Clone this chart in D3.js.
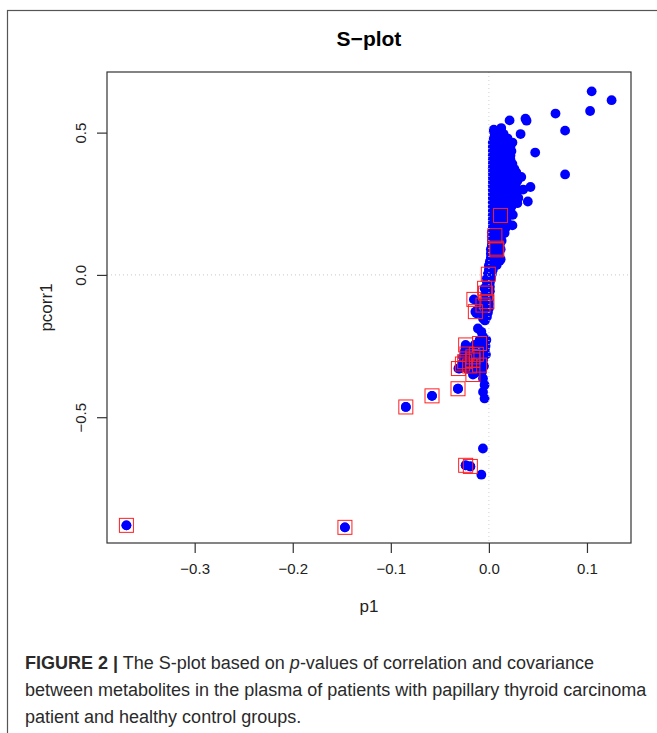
<!DOCTYPE html>
<html>
<head>
<meta charset="utf-8">
<script src="https://cdn.jsdelivr.net/npm/d3@7/dist/d3.min.js"></script>
<style>
  body { margin: 0; background: #fff; }
  text { font-family: "Liberation Sans", Arial, Helvetica, sans-serif; }
</style>
</head>
<body>
<svg id="chart" width="657" height="733"></svg>
<script>
// ---- data (p1, pcorr1) ----
var highOutliers = [
  [0.1048, 0.645], [0.1251, 0.614], [0.1032, 0.576], [0.0679, 0.567],
  [0.0777, 0.507], [0.0373, 0.549], [0.0384, 0.542], [0.0211, 0.543],
  [0.0323, 0.495], [0.0472, 0.430], [0.0777, 0.353], [0.0424, 0.309],
  [0.0397, 0.258], [0.0244, 0.211], [0.0126, 0.516], [0.0050, 0.505]
];

var clusterPoints = [
  [0.005, 0.510], [0.012, 0.510],
  [0.006, 0.495], [0.011, 0.495], [0.015, 0.495],
  [0.005, 0.480], [0.010, 0.480], [0.015, 0.480], [0.019, 0.480],
  [0.004, 0.465], [0.009, 0.465], [0.014, 0.465], [0.019, 0.465], [0.024, 0.465],
  [0.004, 0.450], [0.009, 0.450], [0.014, 0.450], [0.019, 0.450], [0.022, 0.450],
  [0.004, 0.435], [0.008, 0.435], [0.013, 0.435], [0.018, 0.435], [0.023, 0.435],
  [0.004, 0.420], [0.009, 0.420], [0.014, 0.420], [0.019, 0.420], [0.022, 0.420],
  [0.004, 0.405], [0.008, 0.405], [0.013, 0.405], [0.018, 0.405], [0.022, 0.405],
  [0.004, 0.390], [0.009, 0.390], [0.014, 0.390], [0.019, 0.390], [0.024, 0.390],
  [0.004, 0.375], [0.008, 0.375], [0.013, 0.375], [0.018, 0.375], [0.023, 0.375], [0.026, 0.372],
  [0.004, 0.360], [0.009, 0.360], [0.014, 0.360], [0.019, 0.360], [0.024, 0.360], [0.028, 0.360],
  [0.004, 0.345], [0.008, 0.345], [0.013, 0.345], [0.018, 0.345], [0.023, 0.345], [0.028, 0.345], [0.033, 0.344],
  [0.004, 0.330], [0.009, 0.330], [0.014, 0.330], [0.019, 0.330], [0.024, 0.330], [0.029, 0.330],
  [0.004, 0.315], [0.008, 0.315], [0.013, 0.315], [0.018, 0.315], [0.023, 0.315], [0.027, 0.315], [0.035, 0.300],
  [0.004, 0.300], [0.009, 0.300], [0.014, 0.300], [0.019, 0.300], [0.024, 0.300], [0.029, 0.300],
  [0.004, 0.285], [0.008, 0.285], [0.013, 0.285], [0.018, 0.285], [0.023, 0.285], [0.028, 0.285],
  [0.004, 0.270], [0.009, 0.270], [0.014, 0.270], [0.019, 0.270], [0.025, 0.270], [0.030, 0.270],
  [0.004, 0.255], [0.008, 0.255], [0.013, 0.255], [0.018, 0.255], [0.023, 0.255], [0.029, 0.252],
  [0.004, 0.240], [0.009, 0.240], [0.014, 0.240], [0.019, 0.240], [0.023, 0.240],
  [0.004, 0.225], [0.008, 0.225], [0.013, 0.225], [0.018, 0.225], [0.022, 0.225],
  [0.004, 0.210], [0.009, 0.210], [0.014, 0.210], [0.019, 0.210],
  [0.004, 0.195], [0.008, 0.195], [0.013, 0.195], [0.018, 0.195],
  [0.004, 0.180], [0.009, 0.180], [0.014, 0.180], [0.019, 0.180], [0.024, 0.174],
  [0.004, 0.165], [0.008, 0.165], [0.013, 0.165], [0.017, 0.165],
  [0.003, 0.150], [0.008, 0.150], [0.013, 0.150], [0.016, 0.147],
  [0.003, 0.135], [0.007, 0.135], [0.012, 0.135],
  [0.003, 0.120], [0.008, 0.120], [0.013, 0.120],
  [0.003, 0.105], [0.007, 0.105], [0.011, 0.105],
  [0.002, 0.090], [0.007, 0.090], [0.012, 0.090],
  [0.002, 0.075], [0.006, 0.075], [0.010, 0.075],
  [0.002, 0.060], [0.007, 0.060], [0.012, 0.055],
  [0.001, 0.047], [0.006, 0.047], [0.011, 0.050],
  [0.000, 0.033], [0.004, 0.033], [0.008, 0.035],
  [0.000, 0.018], [0.004, 0.018],
  [-0.001, 0.003], [0.003, 0.003],
  [-0.002, -0.012], [0.002, -0.012],
  [-0.002, -0.027], [0.001, -0.027],
  [-0.002, -0.042], [0.001, -0.042],
  [-0.003, -0.057], [0.001, -0.057],
  [-0.003, -0.072], [0.000, -0.072],
  [-0.003, -0.087], [0.000, -0.087],
  [-0.003, -0.102], [0.000, -0.102],
  [-0.004, -0.117], [0.000, -0.117],
  [-0.004, -0.132], [-0.001, -0.132],
  [-0.005, -0.147], [-0.002, -0.147],
  [-0.004, -0.160], [-0.010, -0.100], [-0.0128, -0.135], [-0.006, -0.153]
];

var lowerBand = [
  [-0.0112, -0.188], [-0.0077, -0.200], [-0.006, -0.217], [-0.0026, -0.229],
  [-0.0034, -0.250], [-0.0095, -0.229], [-0.0145, -0.246], [-0.0237, -0.250],
  [-0.0247, -0.270], [-0.0214, -0.264], [-0.0264, -0.288], [-0.0095, -0.276],
  [-0.006, -0.299], [-0.0128, -0.323], [-0.0298, -0.329], [-0.0145, -0.346],
  [-0.006, -0.364], [-0.0044, -0.387], [-0.006, -0.411], [-0.0044, -0.434],
  [-0.004, -0.260], [-0.003, -0.280], [-0.005, -0.320], [-0.007, -0.340],
  [-0.018, -0.290], [-0.020, -0.310], [-0.027, -0.310], [-0.022, -0.330]
];

var lowOutliers = [
  [-0.3696, -0.880], [-0.1468, -0.887], [-0.0847, -0.464], [-0.058, -0.425],
  [-0.0315, -0.400], [-0.0061, -0.610], [-0.0237, -0.669], [-0.0189, -0.673],
  [-0.0077, -0.702]
];

// metabolites marked with red squares
var selectedPoints = [
  [-0.3696, -0.880], [-0.1468, -0.887], [-0.0847, -0.464], [-0.058, -0.425],
  [-0.0315, -0.400], [-0.0237, -0.669], [-0.0189, -0.673],
  [0.0119, 0.209], [0.0061, 0.138], [0.0075, 0.094], [0.0081, 0.088], [-0.0006, 0.0025],
  [-0.0044, -0.047], [-0.0034, -0.064], [-0.0153, -0.086], [-0.002, -0.094],
  [-0.006, -0.106], [-0.0138, -0.129],
  [-0.0095, -0.241], [-0.0237, -0.246], [-0.0224, -0.278], [-0.0128, -0.279],
  [-0.0163, -0.299], [-0.027, -0.313], [-0.0311, -0.329], [-0.0163, -0.350],
  [-0.0196, -0.320], [-0.0095, -0.317], [-0.0247, -0.305], [-0.0163, -0.288]
];

var xTicks = [-0.3, -0.2, -0.1, 0.0, 0.1];
var yTicks = [-0.5, 0.0, 0.5];
var xLim = [-0.3894, 0.1449];
var yLim = [-0.942, 0.713];

var captionLines = [
  [["FIGURE 2 |", "bold"], [" The S-plot based on ", ""], ["p", "italic"], ["-values of correlation and covariance", ""]],
  [["between metabolites in the plasma of patients with papillary thyroid carcinoma", ""]],
  [["patient and healthy control groups.", ""]]
];

// ---- drawing ----
var svg = d3.select("#chart");
var box = { left: 107, right: 631, top: 72, bottom: 543 };

var x = d3.scaleLinear().domain(xLim).range([box.left, box.right]);
var y = d3.scaleLinear().domain(yLim).range([box.bottom, box.top]);
var fmt = d3.format(".1f");

// outer figure frame
svg.append("rect")
  .attr("x", 7.5).attr("y", 10.5)
  .attr("width", 700).attr("height", 800)
  .attr("fill", "none").attr("stroke", "#555").attr("stroke-width", 1.2);

svg.append("text")
  .attr("x", (box.left + box.right) / 2).attr("y", 46)
  .attr("text-anchor", "middle")
  .attr("font-size", 21).attr("font-weight", "bold")
  .text("S\u2212plot");

// points
var allPoints = highOutliers.concat(clusterPoints, lowerBand, lowOutliers, selectedPoints);
svg.append("g").selectAll("circle")
  .data(allPoints)
  .join("circle")
  .attr("cx", function (d) { return x(d[0]); })
  .attr("cy", function (d) { return y(d[1]); })
  .attr("r", 4.9)
  .attr("fill", "#0000ff");

var sq = 14;
svg.append("g").selectAll("rect")
  .data(selectedPoints)
  .join("rect")
  .attr("x", function (d) { return x(d[0]) - sq / 2; })
  .attr("y", function (d) { return y(d[1]) - sq / 2; })
  .attr("width", sq).attr("height", sq)
  .attr("fill", "none").attr("stroke", "#ff2020").attr("stroke-width", 1);

// dotted reference lines at zero
svg.append("line")
  .attr("x1", x(0)).attr("x2", x(0)).attr("y1", box.top).attr("y2", box.bottom)
  .attr("stroke", "#d0d0d0").attr("stroke-dasharray", "1,3");
svg.append("line")
  .attr("x1", box.left).attr("x2", box.right).attr("y1", y(0)).attr("y2", y(0))
  .attr("stroke", "#c8c8c8").attr("stroke-dasharray", "1,3");

// plot box
svg.append("rect")
  .attr("x", box.left).attr("y", box.top)
  .attr("width", box.right - box.left).attr("height", box.bottom - box.top)
  .attr("fill", "none").attr("stroke", "#333").attr("stroke-width", 1.2);

// axes
var xAxis = svg.append("g")
  .attr("transform", "translate(0," + box.bottom + ")")
  .call(d3.axisBottom(x).tickValues(xTicks).tickFormat(fmt).tickSize(10).tickPadding(10));
var yAxis = svg.append("g")
  .attr("transform", "translate(" + box.left + ",0)")
  .call(d3.axisLeft(y).tickValues(yTicks).tickFormat(fmt).tickSize(10));

[xAxis, yAxis].forEach(function (g) {
  g.select(".domain").remove();
  g.selectAll(".tick line").attr("stroke", "#333").attr("stroke-width", 1.2);
  g.selectAll(".tick text")
    .attr("font-size", 15).attr("fill", "#222")
    .style("font-family", '"Liberation Sans", Arial, sans-serif');
});
xAxis.selectAll(".tick text").attr("dy", "0.71em");
yAxis.selectAll(".tick text")
  .attr("x", null).attr("dy", null)
  .attr("text-anchor", "middle")
  .attr("transform", "translate(-21,0) rotate(-90)");

svg.append("text")
  .attr("x", (box.left + box.right) / 2).attr("y", 612)
  .attr("text-anchor", "middle").attr("font-size", 17).attr("fill", "#222")
  .text("p1");
svg.append("text")
  .attr("transform", "translate(52," + (box.top + box.bottom) / 2 + ") rotate(-90)")
  .attr("text-anchor", "middle").attr("font-size", 17).attr("fill", "#222")
  .text("pcorr1");

// caption
var cap = svg.append("g").attr("fill", "#2a2a2a");
captionLines.forEach(function (parts, i) {
  var t = cap.append("text").attr("x", 25).attr("y", 669 + i * 27).attr("font-size", 18);
  parts.forEach(function (p) {
    var s = t.append("tspan").text(p[0]);
    if (p[1] === "bold") s.attr("font-weight", "bold");
    if (p[1] === "italic") s.attr("font-style", "italic");
  });
});
</script>
</body>
</html>
